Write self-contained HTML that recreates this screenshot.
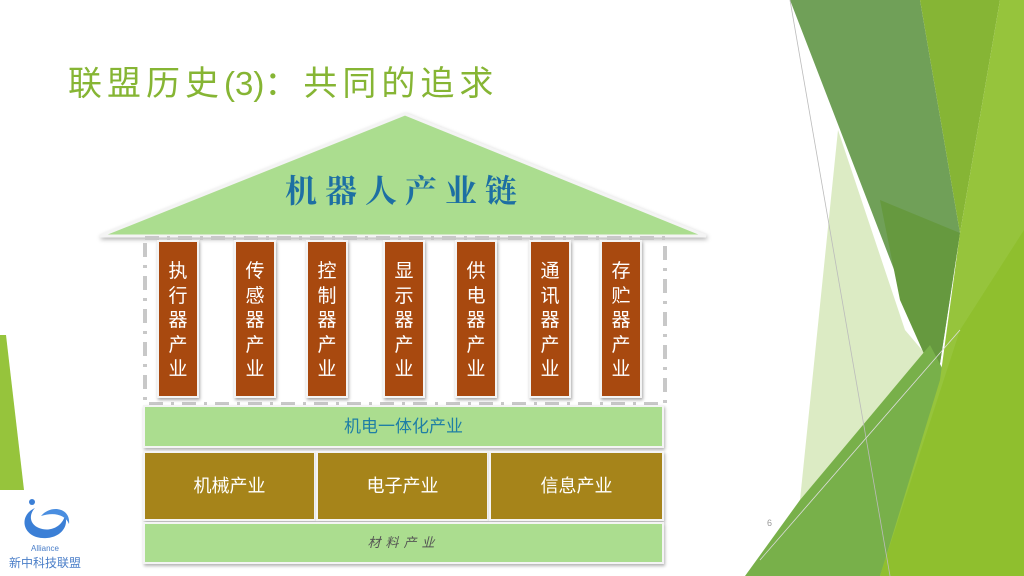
<!DOCTYPE html>
<html><head><meta charset="utf-8"><style>
*{margin:0;padding:0}
body{width:1024px;height:576px;overflow:hidden;background:#fff;position:relative;font-family:"Liberation Sans","Noto Sans CJK SC",sans-serif}
.abs{position:absolute}
.title{left:68px;top:56px;font-size:34px;color:#86b534;letter-spacing:5px;white-space:nowrap;font-family:"Liberation Sans","Noto Sans CJK SC",sans-serif}
.title span{letter-spacing:0;font-size:33px}
.col{position:absolute;top:240px;width:42px;height:158px;background:#a8490f;border:2px solid #f4f4f4;box-shadow:1px 2px 3px rgba(0,0,0,.35);color:#fff;font-size:19px;line-height:24.5px;text-align:center;padding-top:18px;box-sizing:border-box}
.bar{position:absolute;left:143px;width:521px;background:#abdd8f;border:2px solid #f4f4f4;box-shadow:1px 2px 3px rgba(0,0,0,.3);box-sizing:border-box;text-align:center}
.bx{position:absolute;top:451px;height:70px;background:#a6841a;border:2px solid #f4f4f4;box-sizing:border-box;color:#fff;font-size:18px;text-align:center;line-height:66px;box-shadow:1px 2px 3px rgba(0,0,0,.3)}
</style></head><body>
<svg class="abs" style="left:0;top:0" width="1024" height="576">
<polygon points="0,335 6,335 24,490 0,490" fill="#96c43c"/>
<polygon points="838,130 905,330 950,383 880,576 760,576 800,500" fill="#dcebc4"/>
<polygon points="790,0 920,0 960,233 937,383 920,337" fill="#70a058"/>
<polygon points="880,200 960,233 937,383 900,300" fill="#66993f"/>
<polygon points="920,0 1000,0 960,233" fill="#86b535"/>
<polygon points="745,576 800,500 930,345 950,383 880,576" fill="#78b04a"/>
<polygon points="1000,0 1024,0 1024,576 880,576 940,380 960,233" fill="#96c43c"/>
<polygon points="1024,230 1024,576 880,576 960,330" fill="#8fbf2e"/>
<line x1="790" y1="0" x2="890" y2="576" stroke="#bbb" stroke-width="0.8"/>
<line x1="760" y1="560" x2="960" y2="330" stroke="#ddd" stroke-width="0.8"/>
<polygon points="100,236 405,114 706,236" fill="#abdd8f" stroke="#f4f4f4" stroke-width="3" style="filter:drop-shadow(1px 2px 2px rgba(0,0,0,.3))"/>
<rect x="145" y="238" width="520" height="166" fill="none" stroke="#c8c8c8" stroke-width="4" stroke-dasharray="14,8,3,8"/>
<text x="405" y="202" text-anchor="middle" font-size="32" font-weight="bold" fill="#1d6fa3" letter-spacing="8" font-family="Noto Serif CJK SC,serif">机器人产业链</text>
<g transform="translate(45,518)">
<path d="M-10,-10 C-28,-2 -22,22 2,20 C16,19 24,8 20,-2 C16,10 4,14 -6,10 C-16,6 -16,-4 -10,-10Z" fill="#3b7fd6"/>
<path d="M-4,-2 C6,-14 26,-10 24,6 C20,-4 8,-6 -4,-2Z" fill="#4a8ee0"/>
<circle cx="-13" cy="-16" r="3" fill="#3b7fd6"/>
</g>
<text x="45" y="551" text-anchor="middle" font-size="8" fill="#4a7ec8">Alliance</text>
<text x="45" y="567" text-anchor="middle" font-size="12" fill="#4a7ec8" font-family="Noto Sans CJK SC,sans-serif">新中科技联盟</text>
<text x="767" y="526" font-size="9" fill="#999">6</text>
</svg>
<div class="abs title">联盟历史<span>(3)</span>：共同的追求</div>
<div class="col" style="left:157px">执<br>行<br>器<br>产<br>业</div>
<div class="col" style="left:234px">传<br>感<br>器<br>产<br>业</div>
<div class="col" style="left:306px">控<br>制<br>器<br>产<br>业</div>
<div class="col" style="left:383px">显<br>示<br>器<br>产<br>业</div>
<div class="col" style="left:455px">供<br>电<br>器<br>产<br>业</div>
<div class="col" style="left:529px">通<br>讯<br>器<br>产<br>业</div>
<div class="col" style="left:600px">存<br>贮<br>器<br>产<br>业</div>
<div class="bar" style="top:405px;height:43px;color:#1f7fa5;font-size:17px;line-height:39px">机电一体化产业</div>
<div class="bx" style="left:143px;width:173px">机械产业</div>
<div class="bx" style="left:316px;width:173px">电子产业</div>
<div class="bx" style="left:489px;width:175px">信息产业</div>
<div class="bar" style="top:522px;height:42px;color:#555;font-size:13px;line-height:38px;letter-spacing:5px;font-style:italic">材料产业</div>
</body></html>
